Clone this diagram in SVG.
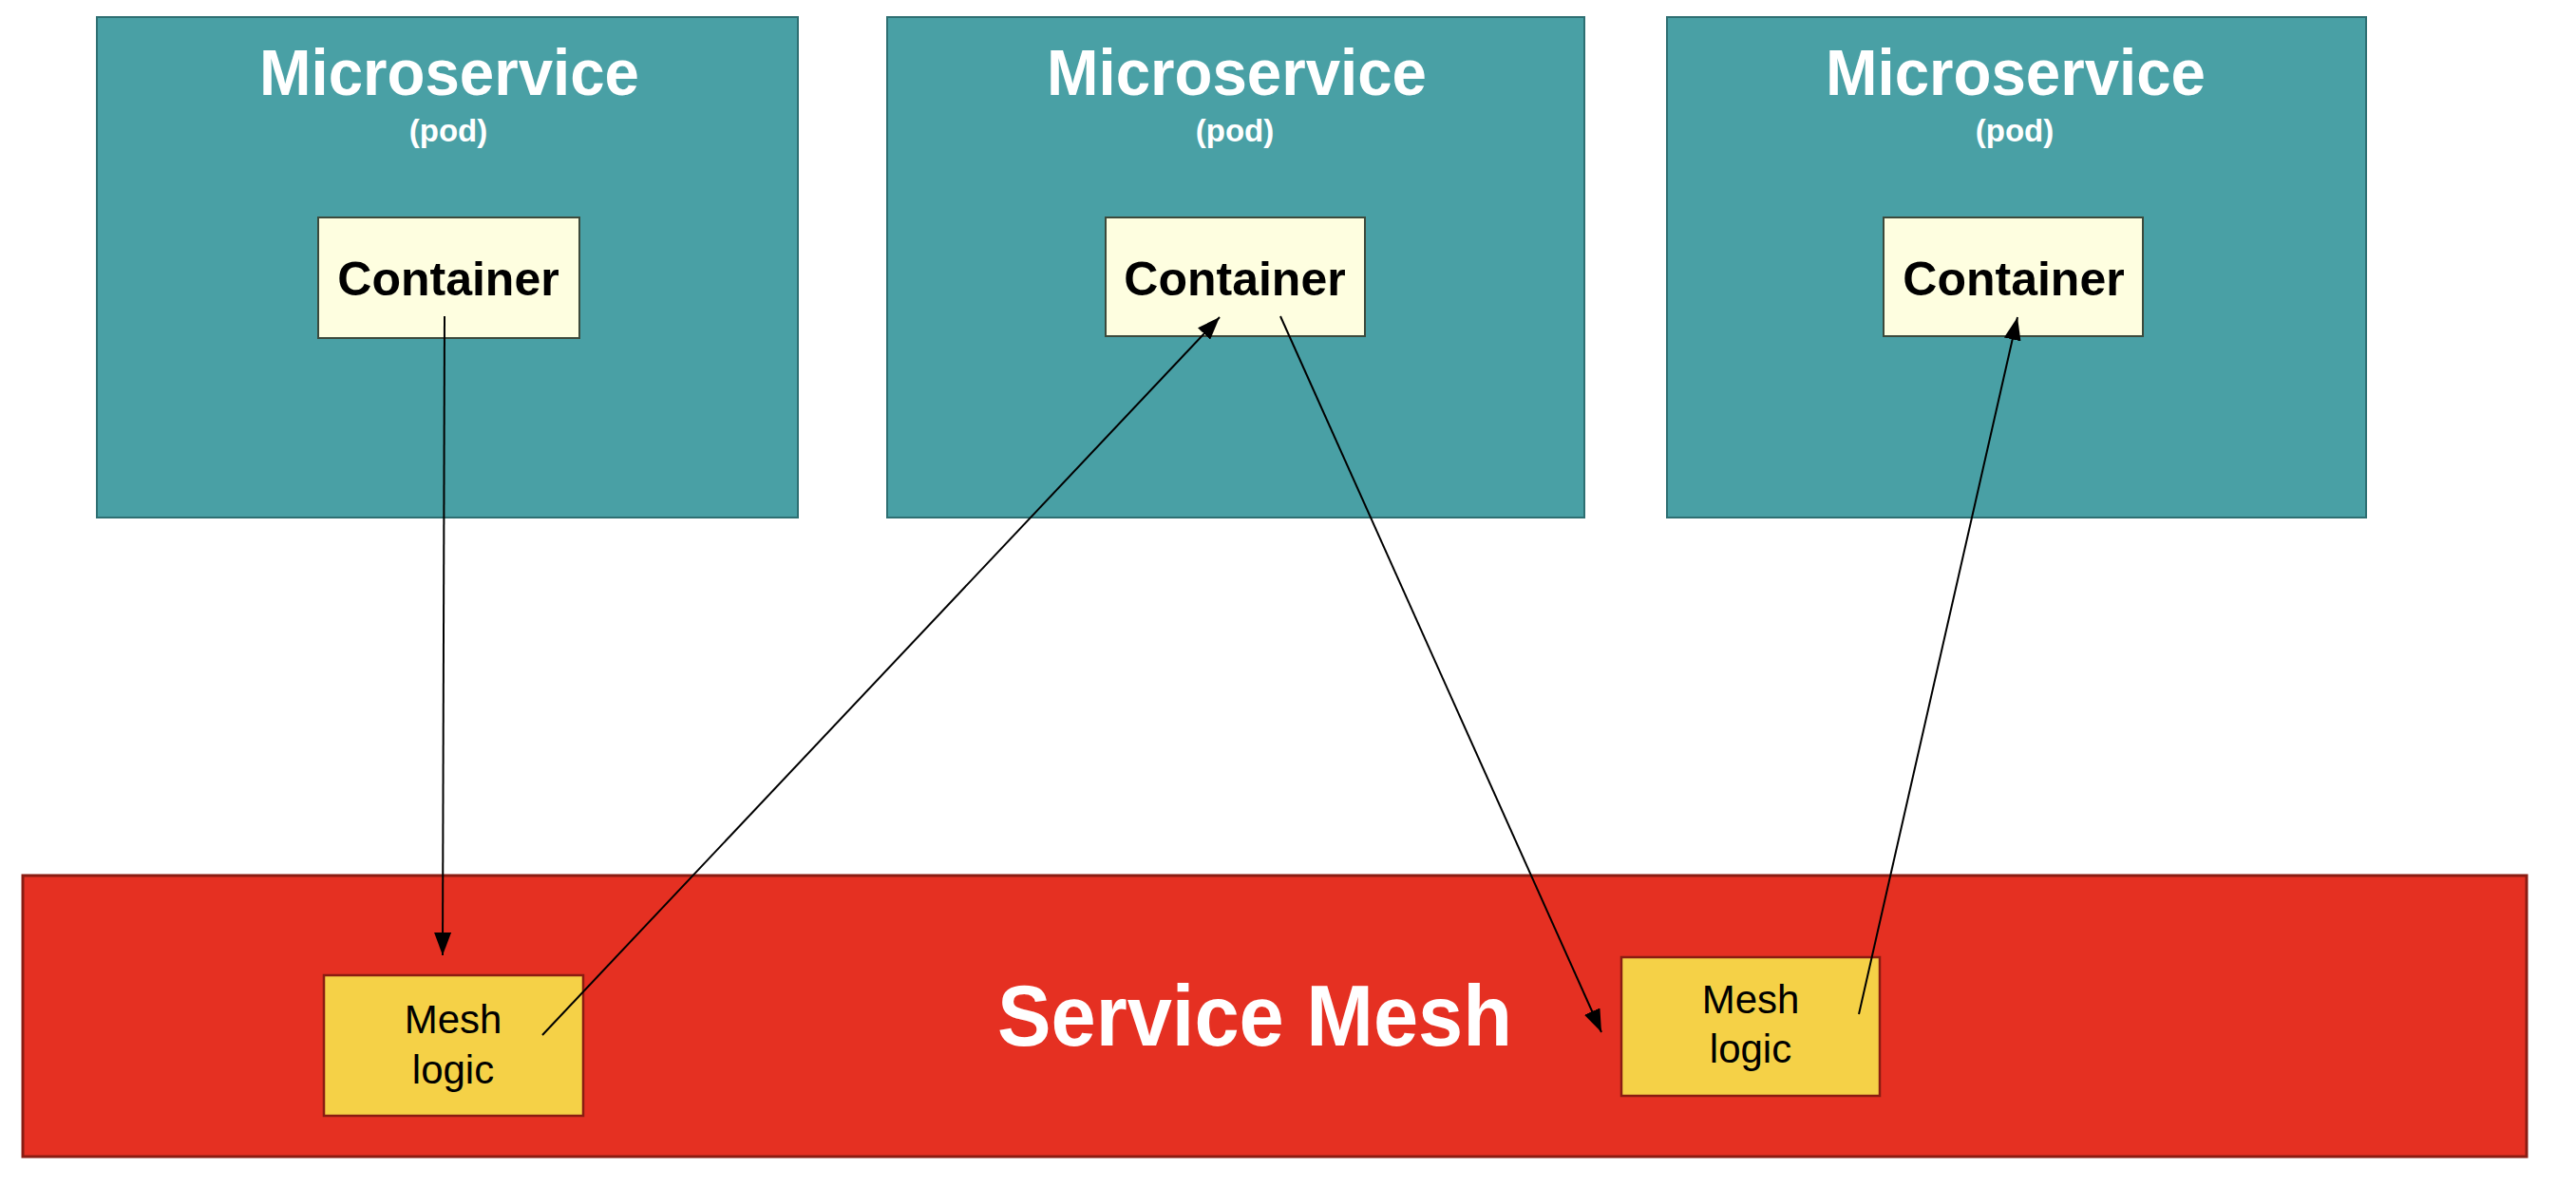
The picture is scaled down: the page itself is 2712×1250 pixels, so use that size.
<svg xmlns="http://www.w3.org/2000/svg" width="2712" height="1250" viewBox="0 0 2712 1250">
<style>
.ms{fill:#49A0A5;stroke:#2E6F72;stroke-width:2}
.ct{fill:#FEFEE0;stroke:#3C4A3C;stroke-width:2}
.mesh{fill:#E53022;stroke:#8A1C12;stroke-width:3}
.ml{fill:#F5D147;stroke:#8A1C12;stroke-width:2.5}
.t{font-family:"Liberation Sans",Arial,sans-serif;text-anchor:middle}
.title{font-size:68px;font-weight:bold;fill:#FFFFFF}
.pod{font-size:33px;font-weight:bold;fill:#FFFFFF}
.ctext{font-size:50px;font-weight:bold;fill:#000000}
.mtext{font-size:42px;fill:#000000}
.big{font-size:90px;font-weight:bold;fill:#FFFFFF}
.conn{stroke:#000000;stroke-width:2;fill:none}
</style>
<defs>
<marker id="arr" markerUnits="userSpaceOnUse" markerWidth="26" markerHeight="18" refX="24" refY="9" orient="auto">
<path d="M0,0 L24,9 L0,18 z" fill="#000000"/>
</marker>
</defs>
<rect x="0" y="0" width="2712" height="1250" fill="#FFFFFF"/>

<g id="microservice1">
<rect class="ms" x="102" y="18" width="738" height="527"/>
<text class="t title" x="473" y="100" textLength="400" lengthAdjust="spacingAndGlyphs">Microservice</text>
<text class="t pod" x="472" y="149">(pod)</text>
</g>
<g id="microservice2">
<rect class="ms" x="934" y="18" width="734" height="527"/>
<text class="t title" x="1302" y="100" textLength="400" lengthAdjust="spacingAndGlyphs">Microservice</text>
<text class="t pod" x="1300" y="149">(pod)</text>
</g>
<g id="microservice3">
<rect class="ms" x="1755" y="18" width="736" height="527"/>
<text class="t title" x="2122" y="100" textLength="400" lengthAdjust="spacingAndGlyphs">Microservice</text>
<text class="t pod" x="2121" y="149">(pod)</text>
</g>

<g id="container1">
<rect class="ct" x="335" y="229" width="275" height="127"/>
<text class="t ctext" x="472" y="311">Container</text>
</g>
<g id="container2">
<rect class="ct" x="1164" y="229" width="273" height="125"/>
<text class="t ctext" x="1300" y="311">Container</text>
</g>
<g id="container3">
<rect class="ct" x="1983" y="229" width="273" height="125"/>
<text class="t ctext" x="2120" y="311">Container</text>
</g>

<g id="service-mesh">
<rect class="mesh" x="24" y="922" width="2636" height="296"/>
<text class="t big" x="1321" y="1101" textLength="542" lengthAdjust="spacingAndGlyphs">Service Mesh</text>
</g>

<g id="mesh-logic1">
<rect class="ml" x="341" y="1027" width="273" height="148"/>
<text class="t mtext" x="477" y="1088">Mesh</text>
<text class="t mtext" x="477" y="1141">logic</text>
</g>
<g id="mesh-logic2">
<rect class="ml" x="1707" y="1008" width="272" height="146"/>
<text class="t mtext" x="1843" y="1067">Mesh</text>
<text class="t mtext" x="1843" y="1119">logic</text>
</g>

<g id="connectors">
<line class="conn" x1="468" y1="333" x2="466" y2="1006" marker-end="url(#arr)"/>
<line class="conn" x1="571" y1="1090" x2="1284" y2="334" marker-end="url(#arr)"/>
<line class="conn" x1="1348" y1="333" x2="1686" y2="1087" marker-end="url(#arr)"/>
<line class="conn" x1="1957" y1="1068" x2="2124" y2="334" marker-end="url(#arr)"/>
</g>
</svg>
